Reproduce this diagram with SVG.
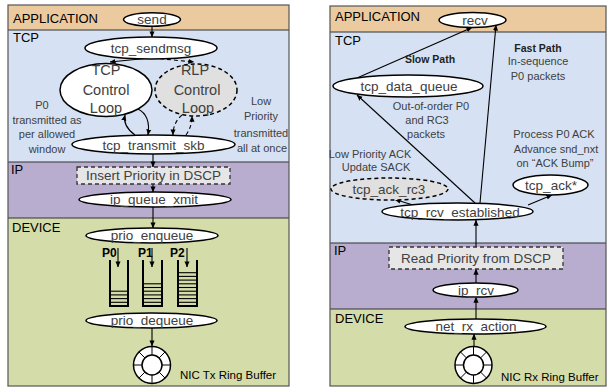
<svg xmlns="http://www.w3.org/2000/svg" width="609" height="390" viewBox="0 0 609 390">
<defs>
<marker id="ah" viewBox="0 0 8 8" refX="7.5" refY="4" markerWidth="6" markerHeight="6" markerUnits="userSpaceOnUse" orient="auto">
<path d="M0,0.6 L8,4 L0,7.4 z" fill="#000"/>
</marker>
<style>
text{font-family:"Liberation Sans",Arial,sans-serif;}
.sec{font-size:13px;fill:#000;}
.nd{fill:#fff;stroke:#000;stroke-width:1.5;}
.nddash{fill:#e0e0e0;stroke:#000;stroke-width:1.5;stroke-dasharray:4 3;}
.box{fill:#e6e6e6;stroke:#333;stroke-width:1.3;stroke-dasharray:4 3;}
.nt{font-size:13.5px;fill:#404040;text-anchor:middle;}
.lt{font-size:14.5px;fill:#404040;text-anchor:middle;}
.an{font-size:11px;fill:#404040;text-anchor:middle;}
.bd{font-size:10.5px;font-weight:bold;fill:#222;text-anchor:middle;}
.nic{font-size:11.5px;fill:#000;}
.c{fill:none;stroke:#000;stroke-width:1.1;marker-end:url(#ah);}
.cd{fill:none;stroke:#000;stroke-width:1.1;stroke-dasharray:4 3;marker-end:url(#ah);}
.q{fill:none;stroke:#000;stroke-width:2;}
.ql{stroke:#000;stroke-width:1.1;}
.app{fill:#ecca9f;}
.tcp{fill:#d6e2f3;}
.ip{fill:#b9adcf;}
.dev{fill:#d4dcaa;}
.bl{stroke:#333;stroke-width:1.2;}
.frame{fill:none;stroke:#555;stroke-width:1.2;}
.pq{font-size:12px;font-weight:bold;fill:#000;}
</style>
</defs>

<!-- LEFT PANEL bands -->
<g id="left-bands">
<rect class="app" x="8" y="5" width="281" height="25"/>
<rect class="tcp" x="8" y="30" width="281" height="132"/>
<rect class="ip" x="8" y="162" width="281" height="56"/>
<rect class="dev" x="8" y="218" width="281" height="168"/>
<line class="bl" x1="8" y1="30" x2="289" y2="30"/>
<line class="bl" x1="8" y1="162" x2="289" y2="162"/>
<line class="bl" x1="8" y1="218" x2="289" y2="218"/>
<rect class="frame" x="8" y="5" width="281" height="381"/>
<text class="sec" x="13" y="23">APPLICATION</text>
<text class="sec" x="13" y="42">TCP</text>
<text class="sec" x="11" y="174">IP</text>
<text class="sec" x="12" y="232">DEVICE</text>
</g>

<!-- RIGHT PANEL bands -->
<g id="right-bands">
<rect class="app" x="330" y="6" width="276" height="26"/>
<rect class="tcp" x="330" y="32" width="276" height="211"/>
<rect class="ip" x="330" y="243" width="276" height="66"/>
<rect class="dev" x="330" y="309" width="276" height="77"/>
<line class="bl" x1="330" y1="32" x2="606" y2="32"/>
<line class="bl" x1="330" y1="243" x2="606" y2="243"/>
<line class="bl" x1="330" y1="309" x2="606" y2="309"/>
<rect class="frame" x="330" y="6" width="276" height="380"/>
<text class="sec" x="335" y="21">APPLICATION</text>
<text class="sec" x="335" y="45">TCP</text>
<text class="sec" x="334" y="255">IP</text>
<text class="sec" x="335" y="323">DEVICE</text>
</g>

<!-- CONNECTORS -->
<g id="connectors">
<line class="c" x1="152" y1="27" x2="152" y2="37"/>
<line class="c" x1="150" y1="58" x2="110" y2="62"/>
<line class="cd" x1="153" y1="58" x2="194" y2="62"/>
<path class="c" d="M135,135 C128,130 123,124 125,115"/>
<path class="c" d="M138,109 C146,113 150,122 148,135"/>
<path class="cd" d="M182,115 C176,120 173,127 173,135"/>
<path class="cd" d="M186,135 C190,129 192,124 192,116"/>
<line class="c" x1="153" y1="154" x2="153" y2="167"/>
<line class="c" x1="153" y1="184" x2="153" y2="192"/>
<line class="c" x1="153" y1="207" x2="153" y2="228"/>
<line class="c" x1="118" y1="248" x2="118" y2="267"/>
<line class="c" x1="152" y1="248" x2="152" y2="267"/>
<line class="c" x1="187" y1="248" x2="187" y2="267"/>
<line class="c" x1="152" y1="328" x2="152" y2="346"/>

<line class="c" x1="357" y1="78" x2="472" y2="27.5"/>
<line class="c" x1="480" y1="203" x2="496" y2="25"/>
<line class="c" x1="475" y1="203" x2="357" y2="95"/>
<line class="c" x1="413" y1="205" x2="395" y2="199.5"/>
<line class="c" x1="528" y1="205" x2="552" y2="195"/>
<line class="c" x1="476" y1="247" x2="476" y2="220"/>
<line class="c" x1="476" y1="283" x2="476" y2="269"/>
<line class="c" x1="476" y1="319" x2="476" y2="297"/>
<line class="c" x1="474" y1="346" x2="474" y2="334"/>
</g>

<!-- LEFT NODES -->
<g id="send"><ellipse class="nd" cx="152" cy="19.5" rx="28.5" ry="6.8" stroke-width="2"/><text class="nt" x="152" y="23.5" font-size="12.5">send</text></g>
<g id="tcp_sendmsg"><ellipse class="nd" cx="151" cy="48" rx="66" ry="11"/><text class="nt" x="151" y="52.5">tcp_sendmsg</text></g>
<g id="tcp_control_loop"><ellipse class="nd" cx="106" cy="90" rx="46" ry="26.5"/>
<text class="lt" x="106" y="75">TCP</text><text class="lt" x="106" y="95">Control</text><text class="lt" x="106" y="113">Loop</text></g>
<g id="rlp_control_loop"><ellipse class="nddash" cx="196" cy="90" rx="41" ry="26"/>
<text class="lt" x="195" y="75">RLP</text><text class="lt" x="197" y="95">Control</text><text class="lt" x="198" y="113">Loop</text></g>
<g id="tcp_transmit_skb"><ellipse class="nd" cx="153.5" cy="144.5" rx="81.5" ry="9.5"/><text class="nt" x="153.5" y="149.5">tcp_transmit_skb</text></g>
<g id="insert_priority"><rect class="box" x="77" y="167" width="153" height="17"/><text class="nt" x="153.5" y="180">Insert Priority in DSCP</text></g>
<g id="ip_queue_xmit"><ellipse class="nd" cx="155" cy="199.5" rx="76" ry="7.5"/><text class="nt" x="154" y="204">ip_queue_xmit</text></g>
<g id="prio_enqueue"><ellipse class="nd" cx="152" cy="235.5" rx="66" ry="7.5"/><text class="nt" x="152" y="240">prio_enqueue</text></g>

<g id="queues">
<text class="pq" x="102" y="257">P0</text>
<text class="pq" x="138" y="257">P1</text>
<text class="pq" x="170" y="257">P2</text>
<path class="q" d="M110,260 V306 H128 V260"/>
<path class="q" d="M143,260 V306 H162 V260"/>
<path class="q" d="M178,260 V306 H197 V260"/>
<g>
<line class="ql" x1="110" x2="128" y1="302.3" y2="302.3"/>
<line class="ql" x1="110" x2="128" y1="298.6" y2="298.6"/>
<line class="ql" x1="110" x2="128" y1="294.9" y2="294.9"/>
<line class="ql" x1="110" x2="128" y1="291.2" y2="291.2"/>
<line class="ql" x1="143" x2="162" y1="302.3" y2="302.3"/>
<line class="ql" x1="143" x2="162" y1="298.6" y2="298.6"/>
<line class="ql" x1="143" x2="162" y1="294.9" y2="294.9"/>
<line class="ql" x1="143" x2="162" y1="291.2" y2="291.2"/>
<line class="ql" x1="143" x2="162" y1="287.5" y2="287.5"/>
<line class="ql" x1="143" x2="162" y1="283.8" y2="283.8"/>
<line class="ql" x1="178" x2="197" y1="302.3" y2="302.3"/>
<line class="ql" x1="178" x2="197" y1="298.6" y2="298.6"/>
<line class="ql" x1="178" x2="197" y1="294.9" y2="294.9"/>
<line class="ql" x1="178" x2="197" y1="291.2" y2="291.2"/>
<line class="ql" x1="178" x2="197" y1="287.5" y2="287.5"/>
<line class="ql" x1="178" x2="197" y1="283.8" y2="283.8"/>
<line class="ql" x1="178" x2="197" y1="280.1" y2="280.1"/>
<line class="ql" x1="178" x2="197" y1="276.4" y2="276.4"/>
<line class="ql" x1="178" x2="197" y1="272.7" y2="272.7"/>
</g>
</g>

<g id="prio_dequeue"><ellipse class="nd" cx="151.5" cy="320.5" rx="65.5" ry="7.5"/><text class="nt" x="152" y="325">prio_dequeue</text></g>

<g id="nic_tx_ring">
<circle cx="152" cy="365" r="18.5" fill="#fff" stroke="#000" stroke-width="1.5"/>
<circle cx="152" cy="365" r="10" fill="#fff" stroke="#000" stroke-width="1.5"/>
<path stroke="#000" stroke-width="1" d="M152,346.5V355 M152,375V383.5 M133.5,365H142 M162,365H170.5 M138.9,351.9L144.9,357.9 M159.1,372.1L165.1,378.1 M165.1,351.9L159.1,357.9 M144.9,372.1L138.9,378.1"/>
<text class="nic" x="180" y="379">NIC Tx Ring Buffer</text>
</g>

<g id="left-notes">
<text class="an" x="42" y="109">P0</text>
<text class="an" x="47" y="124">transmitted as</text>
<text class="an" x="47" y="138">per allowed</text>
<text class="an" x="47" y="153">window</text>
<text class="an" x="261" y="105">Low</text>
<text class="an" x="261" y="120">Priority</text>
<text class="an" x="261" y="137">transmitted</text>
<text class="an" x="262" y="152">all at once</text>
</g>

<!-- RIGHT NODES -->
<g id="recv"><ellipse class="nd" cx="472.5" cy="20" rx="33.5" ry="7.5"/><text class="nt" x="475" y="25" font-size="14">recv</text></g>
<g id="tcp_data_queue"><ellipse class="nd" cx="408" cy="86" rx="75" ry="11"/><text class="nt" x="409" y="90.5">tcp_data_queue</text></g>
<g id="tcp_ack_rc3"><ellipse class="nddash" cx="389.5" cy="189" rx="58.5" ry="11"/><text class="nt" x="389" y="193.5">tcp_ack_rc3</text></g>
<g id="tcp_ack"><ellipse class="nd" cx="550.5" cy="185" rx="37.5" ry="10"/><text class="nt" x="551" y="190" font-size="14.5">tcp_ack*</text></g>
<g id="tcp_rcv_established"><ellipse class="nd" cx="457.5" cy="211.5" rx="75.5" ry="8.5"/><text class="nt" x="460" y="216.5" font-size="15">tcp_rcv_established</text></g>
<g id="read_priority"><rect class="box" x="389" y="247" width="174" height="22"/><text class="nt" x="476" y="262.5">Read Priority from DSCP</text></g>
<g id="ip_rcv"><ellipse class="nd" cx="475.5" cy="290" rx="42.5" ry="7"/><text class="nt" x="476" y="294.5">ip_rcv</text></g>
<g id="net_rx_action"><ellipse class="nd" cx="475.5" cy="326.5" rx="70.5" ry="7.5"/><text class="nt" x="476" y="331">net_rx_action</text></g>

<g id="nic_rx_ring">
<circle cx="473.5" cy="365" r="18.5" fill="#fff" stroke="#000" stroke-width="1.5"/>
<circle cx="473.5" cy="365" r="10" fill="#fff" stroke="#000" stroke-width="1.5"/>
<path stroke="#000" stroke-width="1" d="M473.5,346.5V355 M473.5,375V383.5 M455,365H463.5 M483.5,365H492 M460.4,351.9L466.4,357.9 M480.6,372.1L486.6,378.1 M486.6,351.9L480.6,357.9 M466.4,372.1L460.4,378.1"/>
<text class="nic" x="501" y="381">NIC Rx Ring Buffer</text>
</g>

<g id="right-notes">
<text class="bd" x="430" y="63">Slow Path</text>
<text class="bd" x="538" y="52">Fast Path</text>
<text class="an" x="538" y="65">In-sequence</text>
<text class="an" x="538" y="80">P0 packets</text>
<text class="an" x="431" y="110" font-size="11.5">Out-of-order P0</text>
<text class="an" x="427" y="124" font-size="11.5">and RC3</text>
<text class="an" x="426" y="138" font-size="11.5">packets</text>
<text class="an" x="554" y="138">Process P0 ACK</text>
<text class="an" x="556" y="153">Advance snd_nxt</text>
<text class="an" x="555" y="167">on “ACK Bump”</text>
<text class="an" x="370" y="158" font-size="10.5">Low Priority ACK</text>
<text class="an" x="376" y="171">Update SACK</text>
</g>
</svg>
